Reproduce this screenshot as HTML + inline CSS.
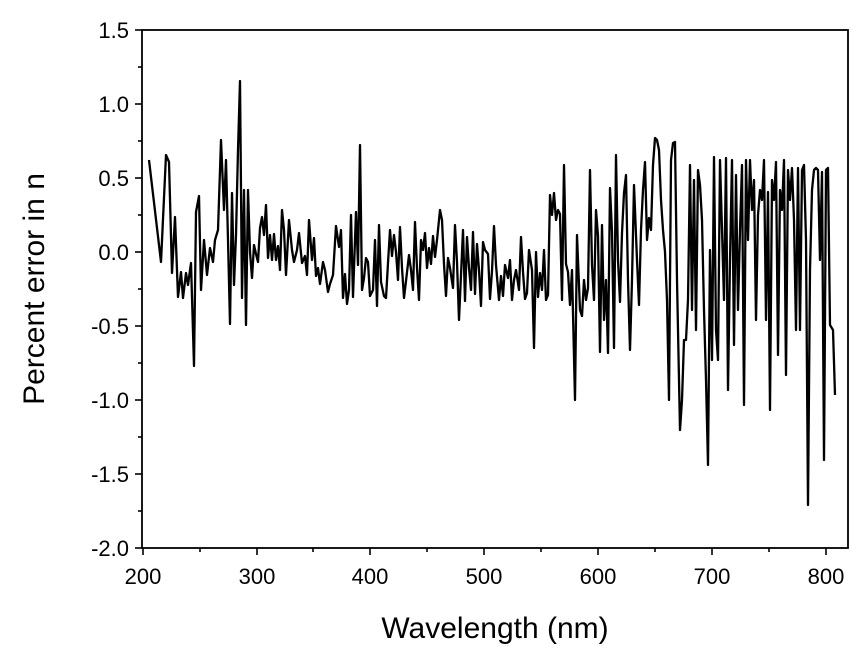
<!DOCTYPE html>
<html><head><meta charset="utf-8"><style>
html,body{margin:0;padding:0;background:#fff;}
svg{display:block;font-family:"Liberation Sans",Arial,sans-serif;}
</style></head><body>
<svg width="863" height="655" viewBox="0 0 863 655">
<rect x="0" y="0" width="863" height="655" fill="#fff"/>
<rect x="142" y="30" width="706" height="518" fill="none" stroke="#000" stroke-width="1.8"/>
<g stroke="#000" stroke-width="1.6">
<line x1="143" y1="548" x2="143" y2="555"/><line x1="257" y1="548" x2="257" y2="555"/><line x1="370" y1="548" x2="370" y2="555"/><line x1="484" y1="548" x2="484" y2="555"/><line x1="598" y1="548" x2="598" y2="555"/><line x1="712" y1="548" x2="712" y2="555"/><line x1="826" y1="548" x2="826" y2="555"/>
<line x1="200" y1="548" x2="200" y2="552"/><line x1="313" y1="548" x2="313" y2="552"/><line x1="427" y1="548" x2="427" y2="552"/><line x1="541" y1="548" x2="541" y2="552"/><line x1="655" y1="548" x2="655" y2="552"/><line x1="769" y1="548" x2="769" y2="552"/>
<line x1="135" y1="30" x2="142" y2="30"/><line x1="135" y1="104" x2="142" y2="104"/><line x1="135" y1="178" x2="142" y2="178"/><line x1="135" y1="252" x2="142" y2="252"/><line x1="135" y1="326" x2="142" y2="326"/><line x1="135" y1="400" x2="142" y2="400"/><line x1="135" y1="474" x2="142" y2="474"/><line x1="135" y1="548" x2="142" y2="548"/>
<line x1="138" y1="67" x2="142" y2="67"/><line x1="138" y1="141" x2="142" y2="141"/><line x1="138" y1="215" x2="142" y2="215"/><line x1="138" y1="289" x2="142" y2="289"/><line x1="138" y1="363" x2="142" y2="363"/><line x1="138" y1="437" x2="142" y2="437"/><line x1="138" y1="511" x2="142" y2="511"/>
</g>
<g font-size="22" fill="#000" text-anchor="end">
<text x="129" y="38">1.5</text><text x="129" y="112">1.0</text><text x="129" y="186">0.5</text><text x="129" y="260">0.0</text><text x="129" y="334">-0.5</text><text x="129" y="408">-1.0</text><text x="129" y="482">-1.5</text><text x="129" y="556">-2.0</text>
</g>
<g font-size="22" fill="#000" text-anchor="middle">
<text x="143" y="584">200</text><text x="257" y="584">300</text><text x="370" y="584">400</text><text x="484" y="584">500</text><text x="598" y="584">600</text><text x="712" y="584">700</text><text x="826" y="584">800</text>
</g>
<text x="495" y="638" font-size="30" text-anchor="middle">Wavelength (nm)</text>
<text transform="translate(44,289) rotate(-90)" font-size="30" text-anchor="middle">Percent error in n</text>
<polyline fill="none" stroke="#000" stroke-width="2.3" stroke-linejoin="round" points="149,160 161,262 166,155 169,162 172,273 175,217 178,297 181,272 183,298 186,273 188,285 191,263 194,366 196,212 199,196 201,290 204,240 207,275 210,248 213,262 215,240 218,230 221,140 224,210 226,160 228,240 230,324 232,193 234,285 236,235 238,150 240,81 242,298 244,190 246,325 248,190 250,252 252,278 254,245 256,254 258,262 260,228 262,217 264,235 266,205 268,258 270,235 272,260 274,234 276,260 278,246 280,270 282,210 284,230 286,275 289,220 292,250 294,262 297,250 299,233 302,263 305,256 307,275 309,220 312,260 314,238 316,276 318,268 320,284 323,262 325,270 328,292 330,284 333,275 336,226 339,247 341,230 343,298 345,274 347,304 349,290 351,215 353,297 356,212 358,265 360,145 362,290 364,278 366,258 368,262 370,296 373,290 375,240 377,306 379,225 381,282 384,296 386,298 388,263 390,230 392,256 394,235 396,252 398,280 400,227 402,268 404,298 406,281 409,255 411,270 413,290 415,222 417,268 419,300 421,240 423,250 425,233 427,268 429,248 431,264 433,236 435,257 437,240 440,210 442,220 444,264 446,296 448,258 450,268 453,288 455,225 457,262 459,320 461,275 463,230 465,301 467,237 469,268 471,290 473,232 475,294 477,244 479,270 481,306 483,242 485,250 488,254 490,299 492,271 494,226 496,265 499,300 501,276 503,296 505,265 508,278 510,260 512,300 514,280 516,270 519,290 521,237 523,272 525,299 527,293 529,250 532,270 534,348 536,252 538,297 540,273 542,290 544,250 546,300 548,295 550,195 552,215 554,193 556,220 558,210 560,214 562,300 564,165 566,264 568,272 570,305 572,270 575,400 577,235 580,310 582,316 584,280 586,300 588,288 590,170 592,265 594,300 596,210 598,236 600,352 602,225 604,320 606,280 608,353 610,188 612,232 614,348 616,155 618,260 620,302 622,233 624,193 626,175 628,280 630,350 632,280 634,185 637,260 639,305 641,230 643,190 645,162 647,240 649,218 651,230 653,165 655,138 657,140 659,150 661,200 663,230 665,252 667,300 669,400 671,160 673,143 675,142 677,280 680,430 682,400 684,340 686,340 688,300 690,165 692,310 694,180 696,330 698,170 700,185 702,220 704,310 706,380 708,465 710,250 712,360 714,157 716,330 718,360 720,160 722,230 724,300 726,158 728,390 730,260 732,160 734,345 736,175 738,310 740,230 742,165 744,405 746,160 748,240 750,160 752,210 754,180 756,320 758,215 760,190 762,200 764,160 766,320 768,192 770,410 772,180 774,200 776,162 778,355 780,190 782,210 784,160 786,375 788,170 790,200 792,168 794,220 796,330 798,168 800,330 802,170 804,165 806,240 808,505 810,270 812,190 814,170 816,168 818,170 820,260 822,172 824,460 826,170 828,168 830,325 833,330 835,395"/>
</svg>
</body></html>
